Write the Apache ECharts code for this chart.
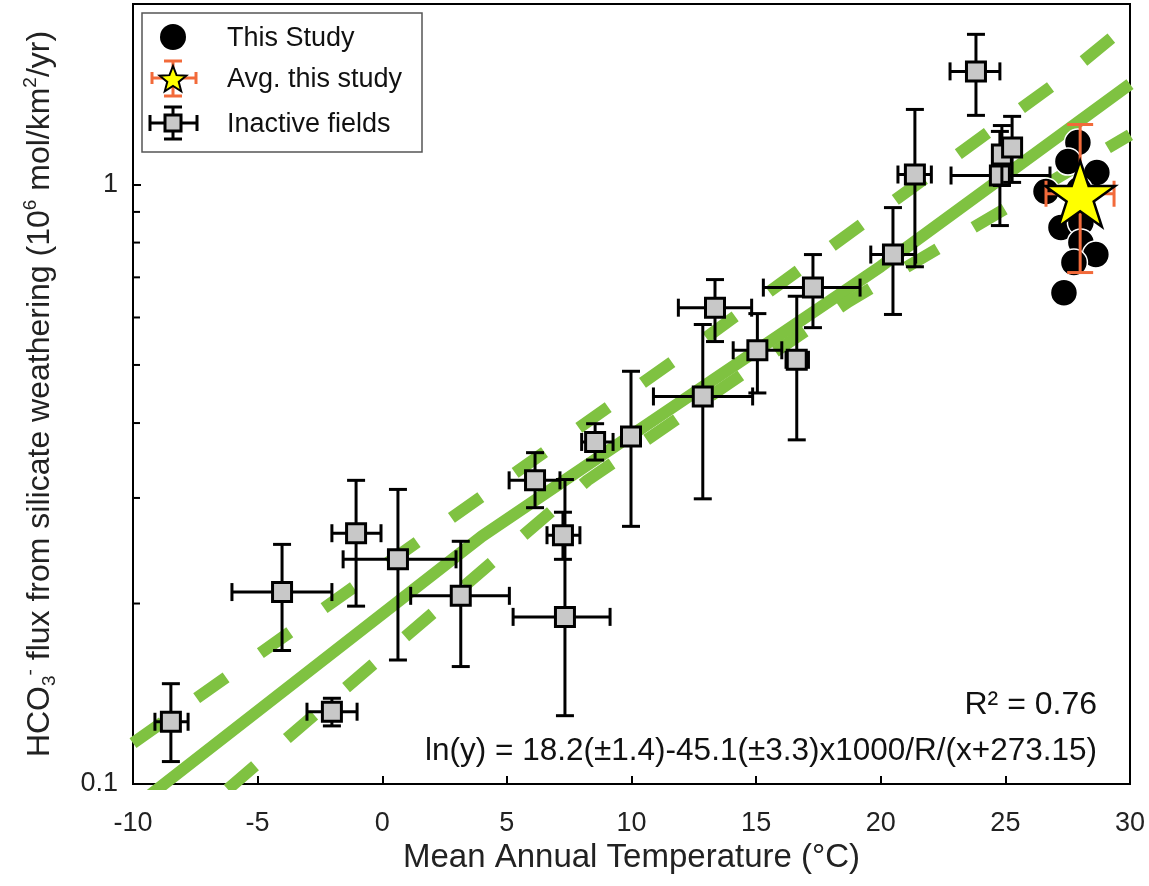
<!DOCTYPE html>
<html><head><meta charset="utf-8">
<script src="https://cdn.jsdelivr.net/npm/echarts@6/dist/echarts.min.js"></script>
<style>html,body{margin:0;padding:0;background:#fff}#c{width:1149px;height:886px}</style>
</head><body><div id="c"></div>
<script>
// ---------- data ----------
const xTicks = [-10, -5, 0, 5, 10, 15, 20, 25, 30];
const yTickLabels = [0.1, 1];
const yMinorTicks = [0.2, 0.3, 0.4, 0.5, 0.6, 0.7, 0.8, 0.9, 2];

// Inactive fields: x, y and error-bar ends
const inactiveX   = [-8.48, -4.02, -2.02, -1.05, 0.63, 3.15, 7.33, 7.25, 6.13, 8.54, 9.98, 12.86, 13.35, 15.05, 16.63, 17.28, 20.49, 21.37, 23.82, 24.78, 24.86, 25.27];
const inactiveY   = [0.127, 0.209, 0.132, 0.262, 0.237, 0.206, 0.190, 0.260, 0.321, 0.372, 0.380, 0.443, 0.623, 0.529, 0.510, 0.673, 0.764, 1.039, 1.544, 1.035, 1.122, 1.153];
const inactiveXLo = [-9.12, -6.03, -3.02, -2.02, -1.57, 1.14, 5.25, 6.61, 5.09, 8.00, 9.98, 10.88, 11.88, 14.08, 16.20, 15.29, 19.60, 20.69, 22.78, 22.82, 24.86, 25.27];
const inactiveXHi = [-7.79, -2.02, -1.01, -0.05, 2.96, 5.10, 9.14, 7.93, 7.13, 9.26, 9.98, 14.86, 14.82, 16.03, 17.10, 19.17, 21.40, 22.03, 24.78, 26.79, 24.86, 25.27];
const inactiveYLo = [0.109, 0.167, 0.125, 0.198, 0.161, 0.157, 0.130, 0.237, 0.289, 0.347, 0.269, 0.299, 0.547, 0.449, 0.375, 0.577, 0.607, 0.729, 1.304, 0.854, 0.996, 1.008];
const inactiveYHi = [0.147, 0.251, 0.139, 0.321, 0.310, 0.254, 0.322, 0.284, 0.357, 0.399, 0.488, 0.584, 0.694, 0.609, 0.651, 0.764, 0.915, 1.334, 1.780, 1.226, 1.254, 1.299];

// This study
const studyX = [27.91, 27.51, 28.67, 26.63, 27.95, 27.23, 28.03, 28.03, 28.63, 27.75, 27.35];
const studyY = [1.175, 1.092, 1.047, 0.973, 0.980, 0.848, 0.864, 0.800, 0.764, 0.741, 0.660];

// Average of this study with error bars
const avgX = [28.0], avgY = [0.965];
const avgXLo = [26.63], avgXHi = [29.36], avgYLo = [0.713], avgYHi = [1.259];

// Fit line and confidence bands
const fitX = [-9.3, 4.0, 20.0, 30.0];
const fitY = [0.096, 0.259, 0.730, 1.47];
const upperX = [-10, 12.43, 27.23, 30];
const upperY = [0.117, 0.534, 1.497, 1.86];
const lowerX = [-6.2, 8.23, 18.71, 30];
const lowerY = [0.098, 0.321, 0.638, 1.21];

const legendNames = ['This Study', 'Avg. this study', 'Inactive fields'];
const r2Text = 'R² = 0.76';
const eqText = 'ln(y) = 18.2(±1.4)-45.1(±3.3)x1000/R/(x+273.15)';

// ---------- chart ----------
const FONT = '"Liberation Sans", Arial, Helvetica, sans-serif';
const GREEN = '#7fc241';
const ORANGE = '#f26a3a';
const chart = echarts.init(document.getElementById('c'), null, {renderer: 'canvas'});

function starPoints(cx, cy, r, r0) {
  const pts = [];
  for (let k = 0; k < 10; k++) {
    const ang = -Math.PI / 2 + k * Math.PI / 5;
    const rr = k % 2 === 0 ? r : r0;
    pts.push([cx + rr * Math.cos(ang), cy + rr * Math.sin(ang)]);
  }
  return pts;
}

function errBarChildren(api, x, y, xl, xh, yl, yh, color, cap) {
  const ch = [];
  const st = {stroke: color, lineWidth: 3};
  if (yl !== yh) {
    const a = api.coord([x, yl]), b = api.coord([x, yh]);
    ch.push({type: 'line', shape: {x1: a[0], y1: a[1], x2: b[0], y2: b[1]}, style: st});
    ch.push({type: 'line', shape: {x1: a[0] - cap, y1: a[1], x2: a[0] + cap, y2: a[1]}, style: st});
    ch.push({type: 'line', shape: {x1: b[0] - cap, y1: b[1], x2: b[0] + cap, y2: b[1]}, style: st});
  }
  if (xl !== xh) {
    const a = api.coord([xl, y]), b = api.coord([xh, y]);
    ch.push({type: 'line', shape: {x1: a[0], y1: a[1], x2: b[0], y2: b[1]}, style: st});
    ch.push({type: 'line', shape: {x1: a[0], y1: a[1] - cap, x2: a[0], y2: a[1] + cap}, style: st});
    ch.push({type: 'line', shape: {x1: b[0], y1: b[1] - cap, x2: b[0], y2: b[1] + cap}, style: st});
  }
  return ch;
}

const inactiveData = inactiveX.map((x, i) => [x, inactiveY[i], inactiveXLo[i], inactiveXHi[i], inactiveYLo[i], inactiveYHi[i]]);
const avgData = avgX.map((x, i) => [x, avgY[i], avgXLo[i], avgXHi[i], avgYLo[i], avgYHi[i]]);
const STAR = 'path://M50,0 L61.8,35.3 L98.8,35.3 L68.9,57.1 L80.3,92.5 L50,70.7 L19.7,92.5 L31.1,57.1 L1.2,35.3 L38.2,35.3 Z';

const option = {
  animation: false,
  backgroundColor: '#fff',
  grid: {left: 133, right: 19, top: 4, bottom: 102, show: true, borderColor: '#000', borderWidth: 2, backgroundColor: 'transparent'},
  xAxis: {
    type: 'value', min: xTicks[0], max: xTicks[xTicks.length - 1], interval: 5,
    axisLine: {onZero: false, lineStyle: {color: '#000', width: 2}},
    axisTick: {inside: true, length: 8, lineStyle: {color: '#000', width: 2}},
    splitLine: {show: false},
    axisLabel: {fontSize: 27, color: '#222', fontFamily: FONT, margin: 26},
    name: 'Mean Annual Temperature (°C)', nameLocation: 'middle', nameGap: 56,
    nameTextStyle: {fontSize: 33, color: '#222', fontFamily: FONT}
  },
  yAxis: {
    type: 'log', logBase: 10, min: 0.1, max: 2,
    axisLine: {show: true, onZero: false, lineStyle: {color: '#000', width: 2}},
    axisTick: {show: true, inside: true, length: 8, lineStyle: {color: '#000', width: 2}},
    splitLine: {show: false},
    axisLabel: {
      fontSize: 27, color: '#222', fontFamily: FONT, margin: 15,
      formatter: v => {
        for (const t of yTickLabels) if (Math.abs(v - t) / t < 1e-6) return String(t);
        return '';
      }
    },
    name: '{a|HCO}{sub|3}{sup|-}{a| flux from silicate weathering (10}{sup|6}{a| mol/km}{sup|2}{a|/yr)}',
    nameLocation: 'middle', nameGap: 74, nameRotate: 90,
    nameTextStyle: {
      fontSize: 32, color: '#222', fontFamily: FONT,
      rich: {
        a: {fontSize: 32, color: '#222', fontFamily: FONT, lineHeight: 38},
        sub: {fontSize: 19, color: '#222', fontFamily: FONT, lineHeight: 16, verticalAlign: 'bottom'},
        sup: {fontSize: 19, color: '#222', fontFamily: FONT, lineHeight: 19, verticalAlign: 'top'}
      }
    }
  },
  graphic: [
    {type: 'group', z: 100, children: [
      {type: 'rect', shape: {x: 142, y: 13, width: 280, height: 139}, style: {fill: '#fff', stroke: '#555', lineWidth: 1.5}},
      {type: 'circle', shape: {cx: 173, cy: 37, r: 13}, style: {fill: '#000'}},
      {type: 'line', shape: {x1: 173, y1: 61, x2: 173, y2: 96}, style: {stroke: ORANGE, lineWidth: 3}},
      {type: 'line', shape: {x1: 164, y1: 61, x2: 182, y2: 61}, style: {stroke: ORANGE, lineWidth: 3}},
      {type: 'line', shape: {x1: 164, y1: 96, x2: 182, y2: 96}, style: {stroke: ORANGE, lineWidth: 3}},
      {type: 'line', shape: {x1: 152, y1: 78, x2: 196, y2: 78}, style: {stroke: ORANGE, lineWidth: 3}},
      {type: 'line', shape: {x1: 152, y1: 72, x2: 152, y2: 84}, style: {stroke: ORANGE, lineWidth: 3}},
      {type: 'line', shape: {x1: 196, y1: 72, x2: 196, y2: 84}, style: {stroke: ORANGE, lineWidth: 3}},
      {type: 'polygon', shape: {points: starPoints(173, 80, 14, 6)}, style: {fill: '#ffff00', stroke: '#000', lineWidth: 2}},
      {type: 'line', shape: {x1: 173, y1: 107, x2: 173, y2: 139}, style: {stroke: '#000', lineWidth: 3}},
      {type: 'line', shape: {x1: 164, y1: 107, x2: 182, y2: 107}, style: {stroke: '#000', lineWidth: 3}},
      {type: 'line', shape: {x1: 164, y1: 139, x2: 182, y2: 139}, style: {stroke: '#000', lineWidth: 3}},
      {type: 'line', shape: {x1: 150, y1: 123, x2: 197, y2: 123}, style: {stroke: '#000', lineWidth: 3}},
      {type: 'line', shape: {x1: 150, y1: 115, x2: 150, y2: 131}, style: {stroke: '#000', lineWidth: 3}},
      {type: 'line', shape: {x1: 197, y1: 115, x2: 197, y2: 131}, style: {stroke: '#000', lineWidth: 3}},
      {type: 'rect', shape: {x: 165, y: 115, width: 16, height: 16}, style: {fill: '#c8c8c8', stroke: '#000', lineWidth: 3}},
      {type: 'text', style: {x: 227, y: 39, text: legendNames[0], fontSize: 27, fontFamily: FONT, fill: '#111', verticalAlign: 'middle'}},
      {type: 'text', style: {x: 227, y: 80, text: legendNames[1], fontSize: 27, fontFamily: FONT, fill: '#111', verticalAlign: 'middle'}},
      {type: 'text', style: {x: 227, y: 125, text: legendNames[2], fontSize: 27, fontFamily: FONT, fill: '#111', verticalAlign: 'middle'}}
    ]},
    {type: 'text', z: 100, style: {x: 1097, y: 705, text: r2Text, fontSize: 32, fontFamily: FONT, fill: '#111', align: 'right', verticalAlign: 'middle'}},
    {type: 'text', z: 100, style: {x: 1097, y: 751, text: eqText, fontSize: 31.5, fontFamily: FONT, fill: '#111', align: 'right', verticalAlign: 'middle'}}
  ],
  series: [
    {type: 'line', name: 'fit', data: fitX.map((x, i) => [x, fitY[i]]), showSymbol: false, z: 1,
      lineStyle: {color: GREEN, width: 12, cap: 'butt'}},
    {type: 'line', name: 'upper', data: upperX.map((x, i) => [x, upperY[i]]), showSymbol: false, z: 1,
      lineStyle: {color: GREEN, width: 12, type: [36, 42], cap: 'butt'}},
    {type: 'line', name: 'lower', data: lowerX.map((x, i) => [x, lowerY[i]]), showSymbol: false, z: 1,
      lineStyle: {color: GREEN, width: 12, type: [36, 42], cap: 'butt'}},
    {type: 'custom', name: legendNames[2], z: 3,
      encode: {x: [0, 2, 3], y: [1, 4, 5]},
      data: inactiveData,
      renderItem: (params, api) => {
        const x = api.value(0), y = api.value(1);
        const ch = errBarChildren(api, x, y, api.value(2), api.value(3), api.value(4), api.value(5), '#000', 9);
        const c = api.coord([x, y]);
        ch.push({type: 'rect', shape: {x: c[0] - 9.5, y: c[1] - 9.5, width: 19, height: 19}, style: {fill: '#c8c8c8', stroke: '#000', lineWidth: 3}});
        return {type: 'group', children: ch};
      }},
    {type: 'scatter', name: legendNames[0], z: 4, data: studyX.map((x, i) => [x, studyY[i]]),
      symbol: 'circle', symbolSize: 27, itemStyle: {color: '#000', borderColor: '#fff', borderWidth: 1.5, opacity: 1}},
    {type: 'custom', name: 'avgErr', z: 5,
      encode: {x: [0, 2, 3], y: [1, 4, 5]},
      data: avgData,
      renderItem: (params, api) => ({type: 'group', children:
        errBarChildren(api, api.value(0), api.value(1), api.value(2), api.value(3), api.value(4), api.value(5), ORANGE, 13)})},
    {type: 'scatter', name: legendNames[1], z: 6, data: avgX.map((x, i) => [x, avgY[i]]),
      symbol: STAR, symbolSize: [70, 66], itemStyle: {color: '#ffff00', borderColor: '#000', borderWidth: 2.5, opacity: 1}},
    {type: 'custom', name: 'minorTicks', z: 7, silent: true,
      data: yMinorTicks.map(v => [xTicks[0], v]),
      renderItem: (params, api) => {
        const p = api.coord([api.value(0), api.value(1)]);
        return {type: 'line', shape: {x1: p[0], y1: p[1], x2: p[0] + 7, y2: p[1]}, style: {stroke: '#000', lineWidth: 2}};
      }}
  ]
};
chart.setOption(option);
</script></body></html>
